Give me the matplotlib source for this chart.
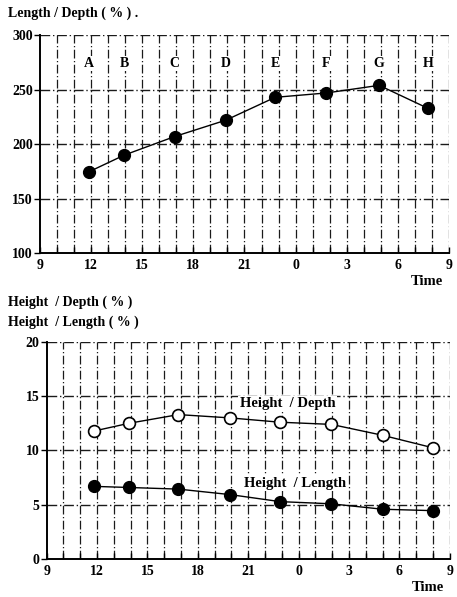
import numpy as np
import matplotlib.pyplot as plt
from matplotlib.ticker import MultipleLocator, FixedLocator

# time of day (hours from 9 o'clock, continuing past midnight)
t_ld = [11.85, 13.95, 16.9, 19.9, 22.8, 25.8, 28.9, 31.75]
ld = [174.5, 190, 207, 222, 243, 247, 254, 233]
labels_ld = ['A', 'B', 'C', 'D', 'E', 'F', 'G', 'H']

t_h = [11.85, 13.9, 16.85, 19.9, 22.9, 25.95, 29.0, 32.0]
hd = [11.8, 12.5, 13.3, 13.0, 12.6, 12.4, 11.4, 10.25]
hl = [6.7, 6.6, 6.45, 5.95, 5.3, 5.1, 4.6, 4.47]

xticks = [9, 12, 15, 18, 21, 24, 27, 30, 33]
xticklabels = ['9', '12', '15', '18', '21', '0', '3', '6', '9']

plt.rcParams['font.family'] = ['Liberation Serif', 'DejaVu Serif']
plt.rcParams['font.weight'] = 'bold'

f = plt.figure(figsize=(4.57, 5.97), dpi=100)

grid_ls = (0, (7, 2, 1, 2))


def setup(ax, ymin, ymax, ystep):
    ax.set_xlim(9, 33)
    ax.set_ylim(ymin, ymax)
    ax.xaxis.set_major_locator(FixedLocator(xticks))
    ax.set_xticklabels(xticklabels)
    ax.xaxis.set_minor_locator(MultipleLocator(1))
    ax.yaxis.set_major_locator(MultipleLocator(ystep))
    ax.spines['top'].set_visible(False)
    ax.spines['right'].set_visible(False)
    ax.spines['left'].set_linewidth(1.4)
    ax.spines['bottom'].set_linewidth(1.4)
    ax.tick_params(axis='x', which='both', direction='in', length=4,
                   width=1.0, labelsize=10, pad=4)
    ax.tick_params(axis='y', which='major', direction='out', length=4,
                   width=1.0, labelsize=10, pad=1)
    # dash-dot grid, every hour and every major y step
    for x in range(10, 34):
        ax.axvline(x, color='0.1', lw=0.9, ls=grid_ls, zorder=0)
    for y in np.arange(ymin + ystep, ymax + ystep / 2, ystep):
        ax.axhline(y, color='0.1', lw=1.0, ls=grid_ls, zorder=0)
    ax.text(0.985, -0.1, 'Time', transform=ax.transAxes, ha='right',
            va='top', fontsize=10.5, fontweight='bold')


# ---- top: Length / Depth ----
ax = f.add_axes([0.0875, 0.576, 0.895, 0.365])
setup(ax, 100, 300, 50)
ax.plot(t_ld, ld, color='black', lw=1.0, marker='o', ms=8.5,
        mfc='black', mec='black', zorder=3)
for x, s in zip(t_ld, labels_ld):
    ax.text(x, 274, s, ha='center', va='center', fontsize=10,
            fontweight='bold', bbox=dict(fc='white', ec='none', pad=1))
f.text(0.018, 0.978, 'Length / Depth ( % ) .', ha='left', va='center',
       fontsize=10, fontweight='bold')

# ---- bottom: Height / Depth, Height / Length ----
ax2 = f.add_axes([0.102, 0.0632, 0.882, 0.3644])
setup(ax2, 0, 20, 5)
ax2.plot(t_h, hd, color='black', lw=1.0, marker='o', ms=8.5,
         mfc='white', mec='black', mew=1.2, zorder=3)
ax2.plot(t_h, hl, color='black', lw=1.0, marker='o', ms=8.5,
         mfc='black', mec='black', zorder=3)
ax2.text(23.35, 14.3, 'Height  / Depth', ha='center', va='center',
         fontsize=10.5, fontweight='bold',
         bbox=dict(fc='white', ec='none', pad=1))
ax2.text(23.8, 7.0, 'Height  / Length', ha='center', va='center',
         fontsize=10.5, fontweight='bold',
         bbox=dict(fc='white', ec='none', pad=1))
f.text(0.018, 0.493, 'Height  / Depth ( % )', ha='left', va='center',
       fontsize=10, fontweight='bold')
f.text(0.018, 0.461, 'Height  / Length ( % )', ha='left', va='center',
       fontsize=10, fontweight='bold')

plt.savefig('out.png', dpi=100)
